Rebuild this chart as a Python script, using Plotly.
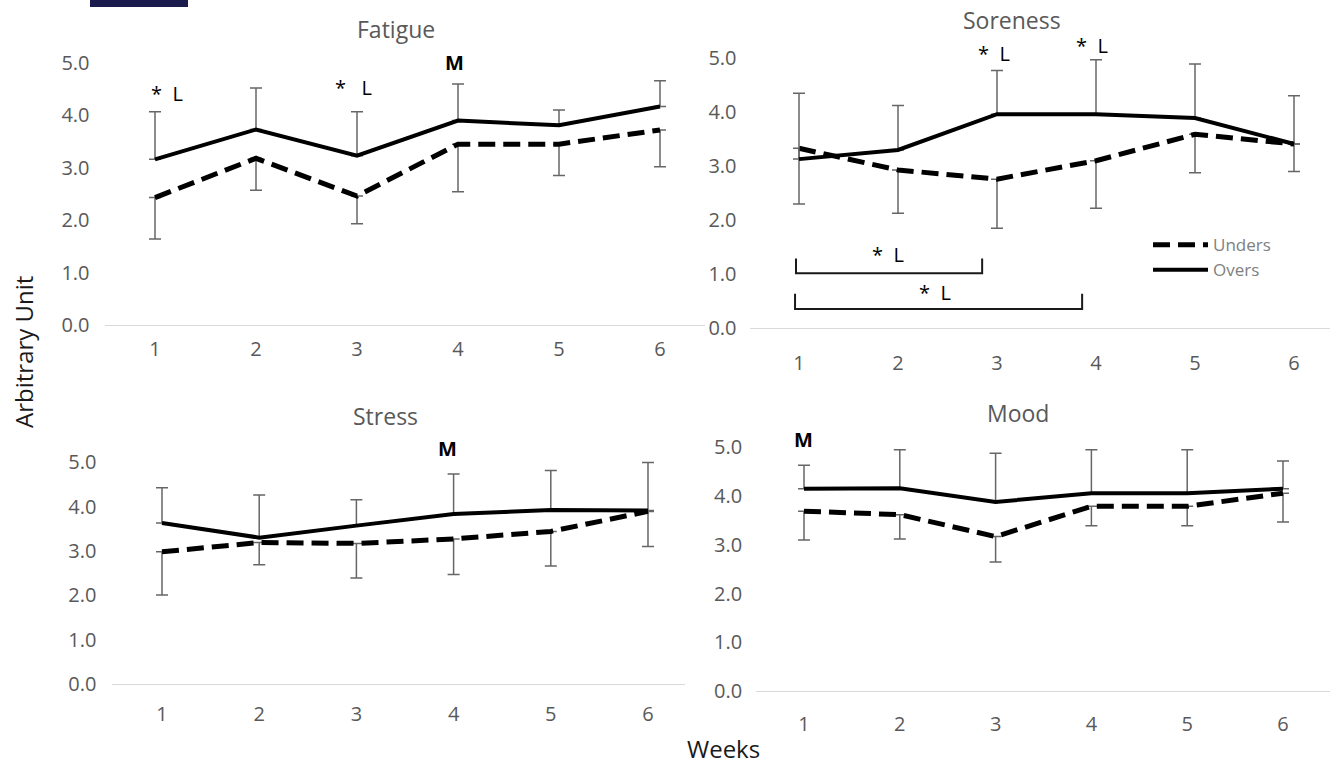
import plotly.graph_objects as go

W, H = 1330, 771

weeks = [1, 2, 3, 4, 5, 6]
y_ticks = [0, 1, 2, 3, 4, 5]

# ---- data (means and SD) ----
fatigue_overs = [3.16, 3.73, 3.23, 3.90, 3.81, 4.17]
fatigue_overs_sd = [0.91, 0.79, 0.84, 0.70, 0.29, 0.49]
fatigue_unders = [2.43, 3.18, 2.46, 3.45, 3.45, 3.72]
fatigue_unders_sd = [0.79, 0.61, 0.53, 0.91, 0.60, 0.70]

soreness_overs = [3.13, 3.30, 3.96, 3.96, 3.89, 3.41]
soreness_overs_sd = [1.22, 0.82, 0.81, 1.01, 1.00, 0.89]
soreness_unders = [3.33, 2.93, 2.76, 3.10, 3.59, 3.41]
soreness_unders_sd = [1.03, 0.80, 0.91, 0.88, 0.71, 0.51]

stress_overs = [3.63, 3.30, 3.57, 3.83, 3.92, 3.91]
stress_overs_sd = [0.79, 0.96, 0.58, 0.90, 0.89, 1.08]
stress_unders = [2.98, 3.19, 3.17, 3.27, 3.44, 3.89]
stress_unders_sd = [0.97, 0.50, 0.78, 0.80, 0.78, 0.79]

mood_overs = [4.15, 4.16, 3.88, 4.06, 4.06, 4.15]
mood_overs_sd = [0.48, 0.79, 1.00, 0.89, 0.89, 0.57]
mood_unders = [3.69, 3.62, 3.17, 3.79, 3.79, 4.06]
mood_unders_sd = [0.59, 0.50, 0.52, 0.40, 0.40, 0.59]

# significance labels: (week position, value level, text)
fatigue_marks = [(1.12, 4.42, "*  L"), (2.97, 4.53, "*   L"), (3.97, 5.0, "<b>M</b>")]
soreness_marks = [(2.97, 5.08, "*  L"), (3.96, 5.24, "*  L")]
stress_marks = [(3.94, 5.3, "<b>M</b>")]
mood_marks = [(1.0, 5.16, "<b>M</b>")]
# soreness brackets: (start week, end week, tip level, base level, label week, label level)
soreness_brackets = [(0.97, 2.85, 1.29, 1.02, 1.90, 1.36),
                     (0.96, 3.86, 0.64, 0.36, 2.37, 0.66)]

TICK_COLOR = "#595959"
EB_COLOR = "#666666"
FONT = "Open Sans"
YMAX = 5.5

panels = [
    dict(title="Fatigue", overs=fatigue_overs, overs_sd=fatigue_overs_sd,
         unders=fatigue_unders, unders_sd=fatigue_unders_sd, marks=fatigue_marks,
         w1=155, dx=101, xr=(0.5, 6.45), y0=330.5, unit=53.3, xs=6, ys=14,
         tpos=(396, 30)),
    dict(title="Soreness", overs=soreness_overs, overs_sd=soreness_overs_sd,
         unders=soreness_unders, unders_sd=soreness_unders_sd, marks=soreness_marks,
         w1=799, dx=99, xr=(0.5, 6.36), y0=334, unit=55, xs=16, ys=12,
         tpos=(1012, 20)),
    dict(title="Stress", overs=stress_overs, overs_sd=stress_overs_sd,
         unders=stress_unders, unders_sd=stress_unders_sd, marks=stress_marks,
         w1=162, dx=97.2, xr=(0.49, 6.38), y0=696, unit=45.2, xs=12, ys=15,
         tpos=(385, 423)),
    dict(title="Mood", overs=mood_overs, overs_sd=mood_overs_sd,
         unders=mood_unders, unders_sd=mood_unders_sd, marks=mood_marks,
         w1=804, dx=95.8, xr=(0.5, 6.49), y0=703, unit=49.6, xs=15, ys=13,
         tpos=(1018, 420)),
]

fig = go.Figure()
layout = {}
annotations = []
shapes = []
ids = ["", "2", "3", "4"]

for i, p in enumerate(panels):
    aid = ids[i]
    xa, ya = "x" + aid, "y" + aid
    show = p["title"] == "Soreness"
    fig.add_trace(go.Scatter(
        x=weeks, y=p["unders"], mode="lines", name="Unders",
        line=dict(color="black", width=5, dash="17px,8px"),
        error_y=dict(type="data", symmetric=False, array=[0] * 6,
                     arrayminus=p["unders_sd"], color=EB_COLOR, thickness=1.5, width=6),
        xaxis=xa, yaxis=ya, showlegend=show, legendrank=1, hoverinfo="skip"))
    fig.add_trace(go.Scatter(
        x=weeks, y=p["overs"], mode="lines", name="Overs",
        line=dict(color="black", width=4),
        error_y=dict(type="data", symmetric=False, array=p["overs_sd"],
                     arrayminus=[0] * 6, color=EB_COLOR, thickness=1.5, width=6),
        xaxis=xa, yaxis=ya, showlegend=show, legendrank=2, hoverinfo="skip"))

    xdom = [(p["w1"] + (p["xr"][0] - 1) * p["dx"]) / W,
            min(1.0, (p["w1"] + (p["xr"][1] - 1) * p["dx"]) / W)]
    ydom = [1 - p["y0"] / H, 1 - (p["y0"] - YMAX * p["unit"]) / H]
    layout["xaxis" + aid] = dict(
        domain=xdom, range=list(p["xr"]), tickvals=weeks, showgrid=False,
        zeroline=False, showline=True, linecolor="#d9d9d9", linewidth=1.3,
        ticks="", tickfont=dict(family=FONT, size=20, color=TICK_COLOR),
        ticklabelstandoff=p["xs"], anchor=ya, fixedrange=True)
    layout["yaxis" + aid] = dict(
        domain=ydom, range=[0, YMAX], tickvals=y_ticks, tickformat=".1f",
        showgrid=False, zeroline=False, showline=False, ticks="",
        tickfont=dict(family=FONT, size=20, color=TICK_COLOR),
        ticklabelstandoff=p["ys"], anchor=xa, fixedrange=True)

    annotations.append(dict(
        text=p["title"], xref="paper", yref="paper",
        x=p["tpos"][0] / W, y=1 - p["tpos"][1] / H, xanchor="center", yanchor="middle",
        showarrow=False, font=dict(family=FONT, size=23, color=TICK_COLOR)))
    for (mx, my, mt) in p["marks"]:
        annotations.append(dict(
            text=mt, xref=xa, yref=ya, x=mx, y=my, xanchor="center", yanchor="middle",
            showarrow=False, font=dict(family=FONT, size=20, color="black")))

for (bx0, bx1, btip, bbase, lx, ly) in soreness_brackets:
    shapes.append(dict(
        type="path", xref="x2", yref="y2",
        path=f"M{bx0},{btip} L{bx0},{bbase} L{bx1},{bbase} L{bx1},{btip}",
        line=dict(color="#1a1a1a", width=2)))
    annotations.append(dict(
        text="*  L", xref="x2", yref="y2", x=lx, y=ly, xanchor="center",
        yanchor="middle", showarrow=False, font=dict(family=FONT, size=20, color="black")))

annotations.append(dict(
    text="Arbitrary Unit", xref="paper", yref="paper", x=24 / W, y=1 - 358 / H,
    textangle=-90, xanchor="center", yanchor="middle", showarrow=False,
    font=dict(family=FONT, size=24, color="#1a1a1a")))
annotations.append(dict(
    text="Weeks", xref="paper", yref="paper", x=723 / W, y=1 - 761 / H,
    xanchor="center", yanchor="middle", showarrow=False,
    font=dict(family=FONT, size=24, color="#1a1a1a")))

# navy strip at the top-left edge of the original image
shapes.append(dict(type="rect", xref="paper", yref="paper",
                   x0=90 / W, x1=188 / W, y0=1 - 7 / H, y1=1,
                   fillcolor="#1c1b4d", line=dict(width=0)))

fig.update_layout(
    **layout,
    width=W, height=H,
    margin=dict(l=0, r=0, t=0, b=0),
    paper_bgcolor="white", plot_bgcolor="white",
    annotations=annotations, shapes=shapes,
    showlegend=True,
    legend=dict(x=1148 / W, y=1 - 231 / H, xanchor="left", yanchor="top",
                bgcolor="rgba(0,0,0,0)", borderwidth=0, tracegroupgap=0,
                itemwidth=55,
                font=dict(family=FONT, size=17, color="#808080")),
)

fig.write_html("out.html", config={"displayModeBar": False},
               post_script="document.body.style.margin='0';document.body.style.overflow='hidden';")
